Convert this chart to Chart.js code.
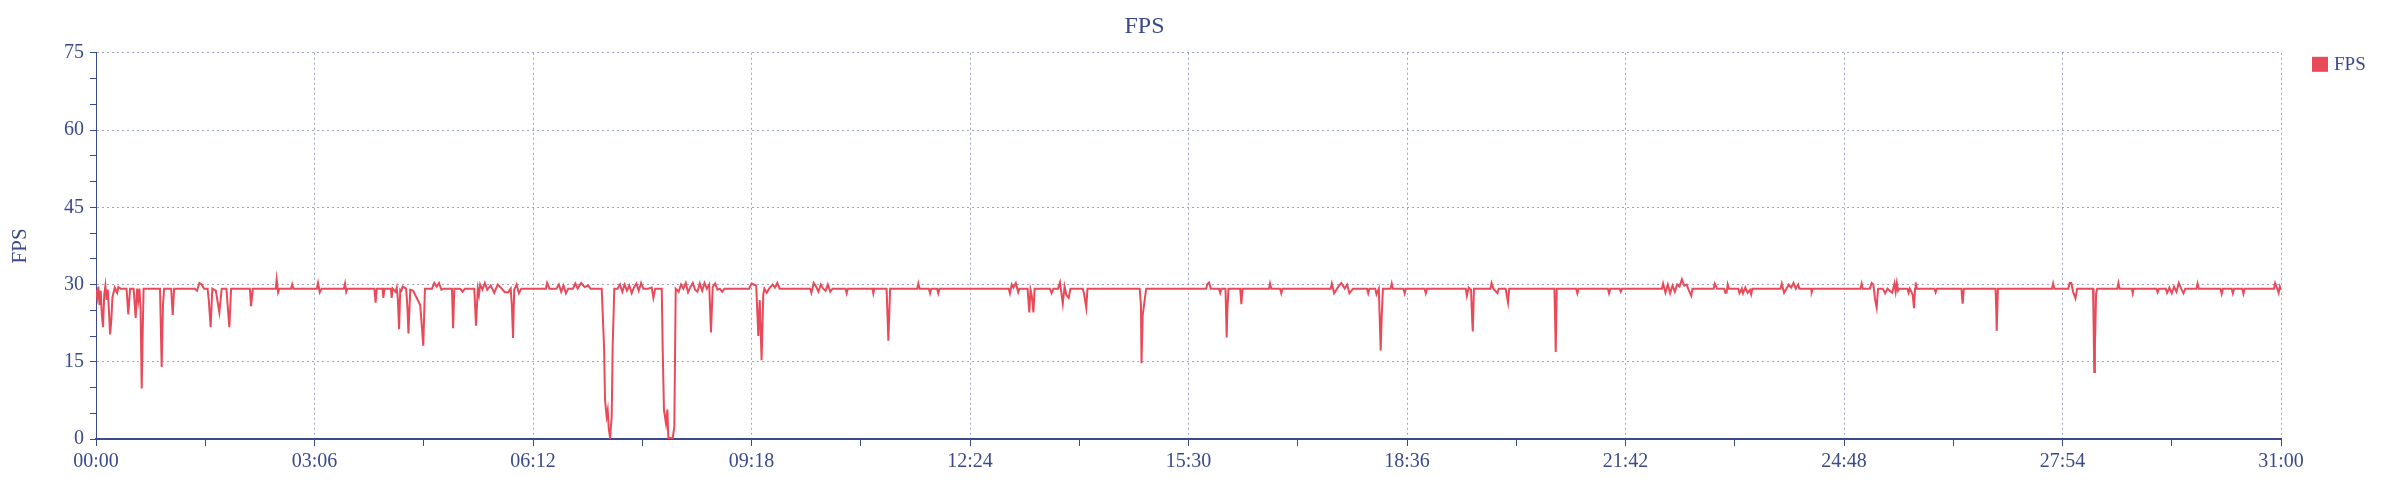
<!DOCTYPE html>
<html>
<head>
<meta charset="utf-8">
<script src="https://cdn.jsdelivr.net/npm/chart.js@4/dist/chart.umd.min.js"></script>
<style>
  html, body { margin: 0; padding: 0; background: #fff; }
  #fpsChart { display: block; }
</style>
</head>
<body>
<canvas id="fpsChart" width="2400" height="487"></canvas>
<script>
// tiempo en segundos desde el inicio (00:00 .. 31:00)
const seconds = [
  0, 1, 2, 3, 4, 5, 6, 7, 8, 9, 10, 11, 12, 13, 14, 15, 16, 18, 19, 21,
  26, 27.5, 29, 32, 33.8, 35, 36, 37, 38, 38.9, 39.7, 40.5,
  54.5, 55.9, 57, 58, 64, 65.3, 66.5,
  84, 86, 88, 90, 92, 95, 96, 97.6, 99, 102, 105, 107, 111, 113.5, 115,
  131, 132, 133.5, 153, 153.8, 155, 156, 166, 167, 168,
  188, 189, 190.5, 192, 211, 212, 213, 214,
  237, 238, 239, 244, 244.6, 245.5, 251, 251.7, 252.5, 255, 256, 257, 258, 259, 260, 261, 264, 265, 266, 267.5, 270, 276, 278.6, 280,
  286, 288, 290, 292, 294, 296, 303, 304, 305, 310, 312, 314, 322, 323.5, 325, 326, 327, 329, 331, 333, 336, 339, 342, 345, 348, 351, 353, 354, 355, 356, 358, 360, 362, 364,
  383, 384, 386, 392, 394, 396, 398, 400, 402, 406, 408, 410, 413, 416, 419, 421,
  430.5, 432.5, 433.3, 434.7, 435.6, 436.5, 437.6, 439, 439.8, 441.2,
  444, 446, 448, 450, 452, 454, 456, 458, 460, 462, 464, 466, 470, 473, 474.5, 476,
  481.6, 482.4, 483.5, 485.2, 486.4, 487.2, 491, 492.3, 493.5,
  496, 498, 500, 502, 504, 506, 508, 510, 512, 514, 516, 518, 520, 522, 523.5, 525, 527, 529, 531, 533, 535,
  556, 558, 560, 562, 563.8, 565, 566.6, 568, 569, 571, 573, 576, 578, 580, 582,
  608, 609, 611, 613, 615, 617, 619, 621, 623, 625, 627,
  638, 639, 640, 661, 661.7, 662.5, 673, 674.5, 676,
  699, 700, 701, 709, 710, 711, 716, 717, 718,
  777, 778, 779.5, 781, 783, 785, 786, 793, 794.5, 795.5, 796.5, 798, 799,
  812, 813.5, 815, 819, 820.6, 823, 824.5, 826, 828, 829.5, 840, 841, 843, 844,
  888.5, 889.5, 890, 891, 893, 894,
  945, 946, 947.5, 949, 956, 957, 958, 961.5, 962.5, 963, 964, 974, 975, 976,
  998.5, 999.4, 1000.5, 1008, 1009, 1010,
  1051, 1052, 1054, 1057, 1060, 1063, 1065, 1067, 1070,
  1082, 1083, 1084, 1089, 1090, 1092, 1093.6, 1094.5, 1095.5,
  1102, 1103, 1104, 1113, 1114, 1115, 1131, 1132, 1133,
  1166, 1167, 1168.5, 1170.5, 1171.5, 1172, 1173,
  1187, 1188, 1189.5, 1193, 1194, 1200, 1201, 1202, 1203,
  1241.5, 1242, 1242.6, 1243.5,
  1260, 1261, 1262, 1287, 1288, 1289, 1297, 1298, 1299,
  1333, 1334, 1336, 1338, 1340, 1342, 1344, 1346, 1348, 1350, 1352, 1354, 1356, 1358, 1359,
  1377, 1378, 1380, 1386, 1387, 1388, 1389, 1390,
  1398, 1399, 1401, 1402, 1404, 1406, 1408, 1409, 1410,
  1434, 1435, 1437, 1439, 1441, 1443, 1445, 1447, 1449, 1450,
  1460, 1460.5, 1461.5,
  1502, 1503, 1504, 1510, 1511.5, 1513, 1514.5, 1515.8, 1517, 1521, 1523, 1525, 1529, 1531, 1532, 1533, 1534, 1535,
  1542, 1543, 1544, 1546.5, 1547.6, 1548.5, 1549, 1550,
  1565, 1566, 1567, 1588, 1588.5, 1589, 1590,
  1617, 1617.5, 1618, 1619,
  1665, 1666, 1667, 1679, 1680, 1681.5, 1683, 1685, 1686.5,
  1700, 1700.5, 1701, 1701.6, 1702.6, 1703.5,
  1720.6, 1721.6, 1722.6, 1733, 1733.8, 1734.6, 1754, 1755, 1756,
  1762, 1763, 1765, 1767, 1769, 1771, 1773, 1775, 1777, 1778.5,
  1788, 1789, 1790, 1808.5, 1809.5, 1810.5, 1818, 1819, 1820, 1827, 1828, 1829,
  1854, 1855, 1856.5, 1858, 1859, 1860
];

const fps = [
  29, 27.5, 29.6, 26, 28.8, 24, 21.7, 28, 29.8, 27, 29, 25, 20.3, 23, 27.5, 28.5, 29.4, 28.4, 29.5, 29.2,
  29.2, 24.2, 29.2, 29.2, 23.5, 29.2, 27, 29.2, 25, 9.8, 20, 29.2,
  29.2, 14, 26, 29.2, 29.2, 24.1, 29.2,
  29.2, 28.8, 30.3, 30, 29.2, 29.2, 27, 21.7, 29.2, 28.8, 24.6, 29.2, 29.2, 21.7, 29.2,
  29.2, 25.8, 29.2, 29.2, 31, 28.5, 29.2, 29.2, 30, 29.2,
  29.2, 30.3, 28.5, 29.2, 29.2, 30.2, 28.6, 29.2,
  29.2, 26.5, 29.2, 29.2, 27.4, 29.2, 29.2, 27.4, 29.2, 28.6, 29.4, 27, 21.3, 29, 28.8, 29.6, 29.2, 26, 20.5, 29, 28.8, 26, 18.1, 29.2,
  29.2, 30.3, 29.6, 30.3, 29, 29.2, 29.2, 21.5, 29.2, 29.2, 28.6, 29.2, 29.2, 22, 29.2, 28, 30, 29, 30.3, 29, 29.8, 28.4, 30, 29.3, 28.5, 28.5, 29.2, 26, 19.6, 29, 30, 28.3, 29.2, 29.2,
  29.2, 30.3, 29.2, 29.2, 30, 28.6, 29.8, 28.3, 29.2, 29.2, 30.2, 29.2, 30.3, 29.5, 29.8, 29.2,
  29.2, 17.8, 7.6, 4.4, 5.6, 2, 0.2, 4.4, 17.8, 29.2,
  29.2, 30, 28.6, 30, 28.8, 29.8, 28.3, 29.5, 30.2, 28.8, 30.3, 29.2, 29.2, 29.4, 27.4, 29.2,
  29.2, 17.5, 5.6, 3, 5.7, 0.2, 0.2, 2.5, 29.2,
  28.6, 30, 29.2, 30.3, 28.5, 29.5, 30.3, 29, 28.6, 30.2, 28.8, 30.3, 29.2, 30, 20.7, 29.5, 30.2, 29, 29.2, 28.6, 29.2,
  29.2, 30.2, 30, 29.8, 20, 27, 15.3, 28, 29.2, 28.4, 29.2, 30, 29.4, 30.3, 29.2,
  29.2, 28.4, 30.3, 29.6, 28.6, 30, 29.2, 28.8, 30, 28.6, 29.2,
  29.2, 28.3, 29.2, 29.2, 28.3, 29.2, 29.2, 19.1, 29.2,
  29.2, 30.2, 29.2, 29.2, 28.3, 29.2, 29.2, 28.3, 29.2,
  29.2, 28.3, 30, 29.4, 30.3, 28.5, 29.2, 29.2, 24.6, 29, 28, 24.6, 29.2,
  29.2, 28.3, 29.2, 29.2, 30.4, 26.3, 29.6, 28, 27.4, 29.2, 29.2, 28.3, 25.5, 29.2,
  29.2, 26, 14.7, 24, 27.5, 29.2,
  29.2, 30.1, 30.4, 29.2, 29.2, 28.4, 29.2, 29.2, 19.7, 24.5, 29.2, 29.2, 26.2, 29.2,
  29.2, 30.2, 29.2, 29.2, 28.3, 29.2,
  29.2, 30.2, 28.3, 29.4, 30.3, 29.2, 30, 28.3, 29.2,
  29.2, 28.3, 29.2, 29.2, 28.1, 29.2, 17.2, 24, 29.2,
  29.2, 30.2, 29.2, 29.2, 28.3, 29.2, 29.2, 28.3, 29.2,
  29.2, 27.8, 29.4, 29, 23, 20.9, 29.2,
  29.2, 30.3, 29.2, 28.3, 29.2, 29.2, 27.8, 26.5, 29.2,
  29.2, 24, 16.9, 29.2,
  29.2, 28.3, 29.2, 29.2, 28.3, 29.2, 29.2, 28.6, 29.2,
  29.2, 30.2, 28.4, 30, 28.3, 29.8, 28.6, 30, 29.6, 31, 29.8, 30, 28.8, 27.8, 29.2,
  29.2, 30.2, 29.2, 29.2, 28.4, 28.4, 30, 29.2,
  29.2, 28.3, 29.2, 28.3, 29.4, 28.4, 29, 28.1, 29.2,
  29.2, 30.2, 28.4, 29.2, 30, 29.4, 30.3, 29.2, 30, 29.2,
  29.2, 28.5, 29.2,
  29.2, 30.2, 29.2, 29.2, 30.3, 30, 27, 25.5, 29.2, 29.2, 28.3, 29.2, 28.4, 30.2, 28.6, 30.3, 28.8, 29.2,
  29.2, 28.4, 29.2, 28, 25.4, 29.2, 30.4, 29.2,
  29.2, 28.5, 29.2, 29.2, 27.5, 26.3, 29.2,
  29.2, 26, 21, 29.2,
  29.2, 30.2, 29.2, 29.2, 30.3, 30.3, 28.6, 27.3, 29.2,
  29.2, 22, 13, 18, 28.2, 29.2,
  29.2, 30.3, 29.2, 29.2, 28.3, 29.2, 29.2, 28.5, 29.2,
  29.2, 28.4, 29.4, 28.3, 29.6, 28.6, 30.3, 29.2, 28.3, 29.2,
  29.2, 30.2, 29.2, 29.2, 28.2, 29.2, 29.2, 28.3, 29.2, 29.2, 28.2, 29.2,
  29.2, 30.3, 29.4, 28.4, 29.6, 29
];

const yMax = 75;
const xMax = 1860;

const navy = "#3b4a8c";
const gridColor = "#9ea4c4";
const lineColor = "#e84a5a";
const fontFamily = "'Liberation Serif', 'DejaVu Serif', serif";

function mmss(v) {
  const m = Math.floor(v / 60), s = Math.round(v % 60);
  return String(m).padStart(2, "0") + ":" + String(s).padStart(2, "0");
}

const points = seconds.map((t, i) => ({ x: t, y: fps[i] }));

// leyenda a la derecha, fuera del área del gráfico
const sideLegend = {
  id: "sideLegend",
  afterDraw(chart) {
    const ctx = chart.ctx;
    const ds = chart.data.datasets[0];
    const x = chart.chartArea.right + 31;
    const y = chart.chartArea.top + 4;
    ctx.save();
    ctx.fillStyle = ds.borderColor;
    ctx.fillRect(x, y, 16, 15);
    ctx.fillStyle = navy;
    ctx.font = "19px " + fontFamily;
    ctx.textBaseline = "middle";
    ctx.fillText(ds.label, x + 22, y + 8);
    ctx.restore();
  }
};

new Chart(document.getElementById("fpsChart").getContext("2d"), {
  type: "line",
  data: {
    datasets: [{
      label: "FPS",
      data: points,
      borderColor: lineColor,
      backgroundColor: lineColor,
      borderWidth: 2,
      pointRadius: 0,
      tension: 0
    }]
  },
  options: {
    responsive: false,
    animation: false,
    layout: { padding: { left: 8, right: 119, top: 0, bottom: 0 } },
    plugins: {
      title: {
        display: true,
        text: "FPS",
        color: navy,
        font: { family: fontFamily, size: 24, weight: "normal" },
        padding: { top: 12, bottom: 12 }
      },
      legend: { display: false },
      tooltip: { enabled: false }
    },
    scales: {
      x: {
        type: "linear",
        min: 0,
        max: xMax,
        afterBuildTicks: s => {
          s.ticks = [];
          for (let v = 0; v <= xMax; v += 93) s.ticks.push({ value: v });
        },
        afterFit: s => { s.height = 48; },
        ticks: {
          color: navy,
          autoSkip: false,
          maxRotation: 0,
          padding: 4,
          font: { family: fontFamily, size: 20 },
          callback: v => (v % 186 === 0 ? mmss(v) : "")
        },
        grid: {
          color: c => (c.tick && c.tick.value % 186 === 0 ? gridColor : "rgba(0,0,0,0)"),
          tickColor: navy,
          tickLength: 7,
          lineWidth: 1
        },
        border: { color: navy, width: 2, dash: [2, 3] }
      },
      y: {
        min: 0,
        max: yMax,
        afterBuildTicks: s => {
          s.ticks = [];
          for (let v = 0; v <= yMax; v += 5) s.ticks.push({ value: v });
        },
        afterFit: s => { s.width = 88; },
        title: {
          display: true,
          text: "FPS",
          color: navy,
          font: { family: fontFamily, size: 21 },
          padding: 0
        },
        ticks: {
          color: navy,
          autoSkip: false,
          padding: 6,
          font: { family: fontFamily, size: 20 },
          callback: v => (v % 15 === 0 ? String(v) : "")
        },
        grid: {
          color: c => (c.tick && c.tick.value % 15 === 0 ? gridColor : "rgba(0,0,0,0)"),
          tickColor: navy,
          tickLength: 6,
          lineWidth: 1
        },
        border: { color: navy, width: 1, dash: [2, 3] }
      }
    }
  },
  plugins: [sideLegend]
});
</script>
</body>
</html>
